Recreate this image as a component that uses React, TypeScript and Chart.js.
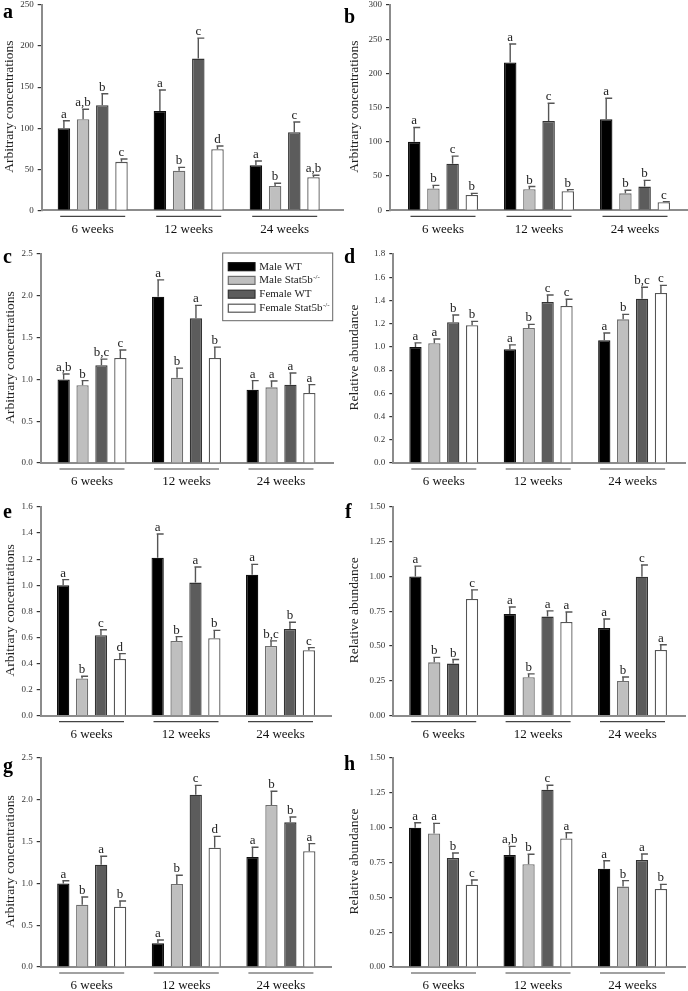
import React, { useEffect, useRef } from 'react';
import { Chart, registerables } from 'chart.js';

Chart.register(...registerables);

// ---------- shared categories / series ----------
const groups = ['6 weeks', '12 weeks', '24 weeks'];
const seriesNames = ['Male WT', 'Male Stat5b', 'Female WT', 'Female Stat5b'];
const seriesSup = ['', '-/-', '', '-/-'];

// ---------- panel a ----------
const aValues = [[100, 121, 55], [111, 48.3, 29.6], [128, 184.7, 95], [59, 74.3, 40.2]];
const aErrors = [[9, 25.5, 5], [12, 4, 3.3], [14, 25, 12.5], [3.5, 4, 2.5]];
const aLetters = [['a', 'a', 'a'], ['a,b', 'b', 'b'], ['b', 'c', 'c'], ['c', 'd', 'a,b']];

// ---------- panel b ----------
const bValues = [[100, 216, 133], [32, 30.7, 24.8], [68, 130.5, 34.6], [22.4, 27.8, 11.7]];
const bErrors = [[21, 27, 30.7], [4.4, 4, 4.4], [11.2, 26, 9.2], [2.4, 2.4, 1]];
const bLetters = [['a', 'a', 'a'], ['b', 'b', 'b'], ['c', 'c', 'b'], ['b', 'b', 'c']];

// ---------- panel c ----------
const cValues = [[1.0, 1.99, 0.877], [0.93, 1.02, 0.905], [1.17, 1.73, 0.937], [1.256, 1.256, 0.837]];
const cErrors = [[0.065, 0.2, 0.108], [0.055, 0.115, 0.076], [0.072, 0.156, 0.14], [0.096, 0.13, 0.1]];
const cLetters = [['a,b', 'a', 'a'], ['b', 'b', 'a'], ['b,c', 'a', 'a'], ['c', 'b', 'a']];

// ---------- panel d ----------
const dValues = [[1.0, 0.98, 1.057], [1.031, 1.163, 1.237], [1.212, 1.387, 1.415], [1.186, 1.352, 1.464]];
const dErrors = [[0.035, 0.037, 0.063], [0.037, 0.031, 0.043], [0.063, 0.06, 0.098], [0.034, 0.058, 0.066]];
const dLetters = [['a', 'a', 'a'], ['a', 'b', 'b'], ['b', 'c', 'b,c'], ['b', 'c', 'c']];

// ---------- panel e ----------
const eValues = [[1.0, 1.211, 1.081], [0.284, 0.573, 0.534], [0.616, 1.02, 0.665], [0.434, 0.593, 0.501]];
const eErrors = [[0.043, 0.182, 0.079], [0.018, 0.033, 0.039], [0.043, 0.12, 0.051], [0.041, 0.061, 0.02]];
const eLetters = [['a', 'a', 'a'], ['b', 'b', 'b,c'], ['c', 'a', 'b'], ['d', 'b', 'c']];

// ---------- panel f ----------
const fValues = [[1.0, 0.731, 0.63], [0.383, 0.276, 0.249], [0.374, 0.712, 0.999], [0.839, 0.673, 0.472]];
const fErrors = [[0.075, 0.05, 0.065], [0.036, 0.024, 0.029], [0.029, 0.041, 0.084], [0.065, 0.072, 0.038]];
const fLetters = [['a', 'a', 'a'], ['b', 'b', 'b'], ['b', 'a', 'c'], ['c', 'a', 'a']];

// ---------- panel g ----------
const gValues = [[1.0, 0.283, 1.316], [0.746, 0.993, 1.938], [1.224, 2.061, 1.73], [0.722, 1.427, 1.384]];
const gErrors = [[0.032, 0.04, 0.116], [0.092, 0.104, 0.164], [0.1, 0.112, 0.064], [0.068, 0.136, 0.092]];
const gLetters = [['a', 'a', 'a'], ['b', 'b', 'b'], ['a', 'c', 'b'], ['b', 'd', 'a']];

// ---------- panel h ----------
const hValues = [[1.0, 0.804, 0.706], [0.959, 0.737, 0.577], [0.782, 1.273, 0.768], [0.591, 0.923, 0.56]];
const hErrors = [[0.035, 0.062, 0.057], [0.072, 0.072, 0.043], [0.036, 0.031, 0.043], [0.033, 0.041, 0.033]];
const hLetters = [['a', 'a,b', 'a'], ['a', 'b', 'b'], ['b', 'c', 'a'], ['c', 'a', 'b']];

// ---------- y axes ----------
const yMax = [250, 300, 2.5, 1.8, 1.6, 1.5, 2.5, 1.5];
const yStep = [50, 50, 0.5, 0.2, 0.2, 0.25, 0.5, 0.25];
const yDecimals = [0, 0, 1, 1, 1, 2, 1, 2];
const yTitles = [
  'Arbitrary concentrations', 'Arbitrary concentrations',
  'Arbitrary concentrations', 'Relative abundance',
  'Arbitrary concentrations', 'Relative abundance',
  'Arbitrary concentrations', 'Relative abundance',
];
const panelIds = ['a', 'b', 'c', 'd', 'e', 'f', 'g', 'h'];

const panelData = [
  { values: aValues, errors: aErrors, letters: aLetters },
  { values: bValues, errors: bErrors, letters: bLetters },
  { values: cValues, errors: cErrors, letters: cLetters },
  { values: dValues, errors: dErrors, letters: dLetters },
  { values: eValues, errors: eErrors, letters: eLetters },
  { values: fValues, errors: fErrors, letters: fLetters },
  { values: gValues, errors: gErrors, letters: gLetters },
  { values: hValues, errors: hErrors, letters: hLetters },
];

// ---------- layout (page pixels) ----------
const layouts = [
  { col: 0, axisX: 41.7, axisEnd: 343, top: 5, zero: 210.3, c0: 92.7, s: 96, lx: 3, ly: 18, tx: 9 },
  { col: 1, axisX: 390, axisEnd: 687, top: 5, zero: 210.3, c0: 443, s: 96, lx: 344, ly: 23, tx: 354 },
  { col: 0, axisX: 40.7, axisEnd: 333, top: 254.3, zero: 463.3, c0: 92, s: 94.5, lx: 3, ly: 263, tx: 10 },
  { col: 1, axisX: 393.3, axisEnd: 685.7, top: 254.3, zero: 463.3, c0: 443.8, s: 94.4, lx: 344, ly: 263, tx: 354 },
  { col: 0, axisX: 40.7, axisEnd: 331.7, top: 506.7, zero: 715.3, c0: 91.5, s: 94.5, lx: 3, ly: 518, tx: 10 },
  { col: 1, axisX: 393.3, axisEnd: 685.7, top: 506.7, zero: 715.3, c0: 443.7, s: 94.4, lx: 345, ly: 518, tx: 354 },
  { col: 0, axisX: 40.7, axisEnd: 331.7, top: 758.3, zero: 967.3, c0: 91.7, s: 94.6, lx: 3, ly: 772, tx: 10 },
  { col: 1, axisX: 393.3, axisEnd: 685.7, top: 758.3, zero: 967.3, c0: 443.5, s: 94.5, lx: 344, ly: 770, tx: 354 },
];

const fills = ['#000000', '#bfbfbf', '#5c5c5c', '#ffffff'];
const strokes = ['#111111', '#6e6e6e', '#333333', '#555555'];
const FONT = '"Liberation Serif", "Times New Roman", serif';

function Panel({ idx }: { idx: number }) {
  const ref = useRef<HTMLCanvasElement | null>(null);
  const L = layouts[idx];
  const P = panelData[idx];
  const cx = L.col === 0 ? 0 : 340;
  const cw = L.col === 0 ? 344 : 348;
  const cy = L.top - 12;
  const ch = L.zero + 30 - cy;

  useEffect(() => {
    if (!ref.current) return;
    const xMin = -(L.c0 - L.axisX) / L.s;
    const xMax = xMin + (L.axisEnd - L.axisX) / L.s;

    const decor = {
      id: 'decor' + idx,
      afterDatasetsDraw(chart: any) {
        const ctx = chart.ctx;
        const yS = chart.scales.y;
        ctx.save();
        chart.data.datasets.forEach((_ds: any, i: number) => {
          const meta = chart.getDatasetMeta(i);
          meta.data.forEach((el: any, j: number) => {
            const v = P.values[i][j];
            const e = P.errors[i][j];
            const yt = yS.getPixelForValue(v + e);
            const x = el.x;
            ctx.strokeStyle = '#555';
            ctx.lineWidth = 1.4;
            ctx.beginPath();
            ctx.moveTo(x, el.y);
            ctx.lineTo(x, yt);
            ctx.moveTo(x - 1, yt);
            ctx.lineTo(x + 6, yt);
            ctx.stroke();
            ctx.fillStyle = '#222';
            ctx.font = '13px ' + FONT;
            ctx.textAlign = 'center';
            ctx.textBaseline = 'alphabetic';
            ctx.fillText(P.letters[i][j], x, yt - 3);
          });
        });
        ctx.restore();
      },
      afterDraw(chart: any) {
        const ctx = chart.ctx;
        const xS = chart.scales.x;
        const area = chart.chartArea;
        ctx.save();
        // group underlines + labels
        groups.forEach((g, j) => {
          const x = xS.getPixelForValue(j);
          ctx.strokeStyle = '#444';
          ctx.lineWidth = 1.2;
          ctx.beginPath();
          ctx.moveTo(x - 32.5, area.bottom + 6);
          ctx.lineTo(x + 32.5, area.bottom + 6);
          ctx.stroke();
          ctx.fillStyle = '#111';
          ctx.font = '13px ' + FONT;
          ctx.textAlign = 'center';
          ctx.textBaseline = 'middle';
          ctx.fillText(g, x, area.bottom + 19);
        });
        // panel letter
        ctx.fillStyle = '#000';
        ctx.font = 'bold 20px ' + FONT;
        ctx.textAlign = 'left';
        ctx.textBaseline = 'alphabetic';
        ctx.fillText(panelIds[idx], L.lx - cx, L.ly - cy);
        // y title
        ctx.save();
        ctx.translate(L.tx - cx, (area.top + area.bottom) / 2 - 1);
        ctx.rotate(-Math.PI / 2);
        ctx.fillStyle = '#222';
        ctx.font = '13.5px ' + FONT;
        ctx.textAlign = 'center';
        ctx.textBaseline = 'middle';
        ctx.fillText(yTitles[idx], 0, 0);
        ctx.restore();
        // legend in panel c
        if (idx === 2) {
          const bx = 222.7 - cx, by = 253.3 - cy, bw = 110, bh = 67.7;
          ctx.fillStyle = '#fff';
          ctx.fillRect(bx, by, bw, bh);
          ctx.strokeStyle = '#666';
          ctx.lineWidth = 1;
          ctx.strokeRect(bx, by, bw, bh);
          const rows = [267, 280.7, 294.5, 308.5];
          seriesNames.forEach((name, i) => {
            const yc = rows[i] - cy;
            ctx.fillStyle = fills[i];
            ctx.fillRect(228.3 - cx, yc - 4, 26.7, 8);
            ctx.strokeStyle = strokes[i];
            ctx.lineWidth = 1.2;
            ctx.strokeRect(228.3 - cx, yc - 4, 26.7, 8);
            ctx.fillStyle = '#222';
            ctx.font = '11px ' + FONT;
            ctx.textAlign = 'left';
            ctx.textBaseline = 'middle';
            const tx = 259.3 - cx;
            ctx.fillText(name, tx, yc);
            if (seriesSup[i]) {
              const w = ctx.measureText(name).width;
              ctx.font = '7px ' + FONT;
              ctx.fillText(seriesSup[i], tx + w + 0.5, yc - 3.5);
            }
          });
        }
        ctx.restore();
      },
    };

    const chart = new Chart(ref.current, {
      type: 'bar',
      data: {
        datasets: seriesNames.map((name, i) => ({
          label: name + seriesSup[i],
          data: groups.map((_g, j) => ({ x: j, y: P.values[i][j] })),
          backgroundColor: fills[i],
          borderColor: strokes[i],
          borderWidth: 1.3,
          categoryPercentage: 0.8,
          barPercentage: 0.65,
        })),
      },
      options: {
        animation: false,
        responsive: true,
        maintainAspectRatio: false,
        layout: { padding: { left: 0, top: L.top - cy, right: cx + cw - L.axisEnd, bottom: 0 } },
        plugins: { legend: { display: false }, tooltip: { enabled: false } },
        scales: {
          x: {
            type: 'linear',
            min: xMin,
            max: xMax,
            bounds: 'data',
            offset: false,
            grid: { display: false, offset: false },
            ticks: { display: false },
            border: { display: true, color: '#8c8c8c', width: 2 },
            afterBuildTicks: (s: any) => { s.ticks = [0, 1, 2].map((v) => ({ value: v })); },
            afterFit: (s: any) => { s.height = cy + ch - L.zero; },
          },
          y: {
            type: 'linear',
            min: 0,
            max: yMax[idx],
            grid: { display: true, drawOnChartArea: false, drawTicks: true, tickLength: 4, color: '#333', lineWidth: 1.2 },
            border: { display: true, color: '#8c8c8c', width: 2 },
            ticks: {
              stepSize: yStep[idx],
              padding: 4,
              color: '#333',
              font: { family: FONT, size: 9 },
              callback: (v: any) => Number(v).toFixed(yDecimals[idx]),
            },
            afterFit: (s: any) => { s.width = L.axisX - cx; },
          },
        } as any,
      },
      plugins: [decor],
    } as any);
    return () => chart.destroy();
  }, []);

  return (
    <div style={{ position: 'absolute', left: cx, top: cy, width: cw, height: ch }}>
      <canvas ref={ref} />
    </div>
  );
}

export default function App() {
  return (
    <div style={{ position: 'absolute', left: 0, top: 0, width: 688, height: 991, overflow: 'hidden', background: '#fff' }}>
      {panelIds.map((_id, i) => (
        <Panel key={i} idx={i} />
      ))}
    </div>
  );
}
